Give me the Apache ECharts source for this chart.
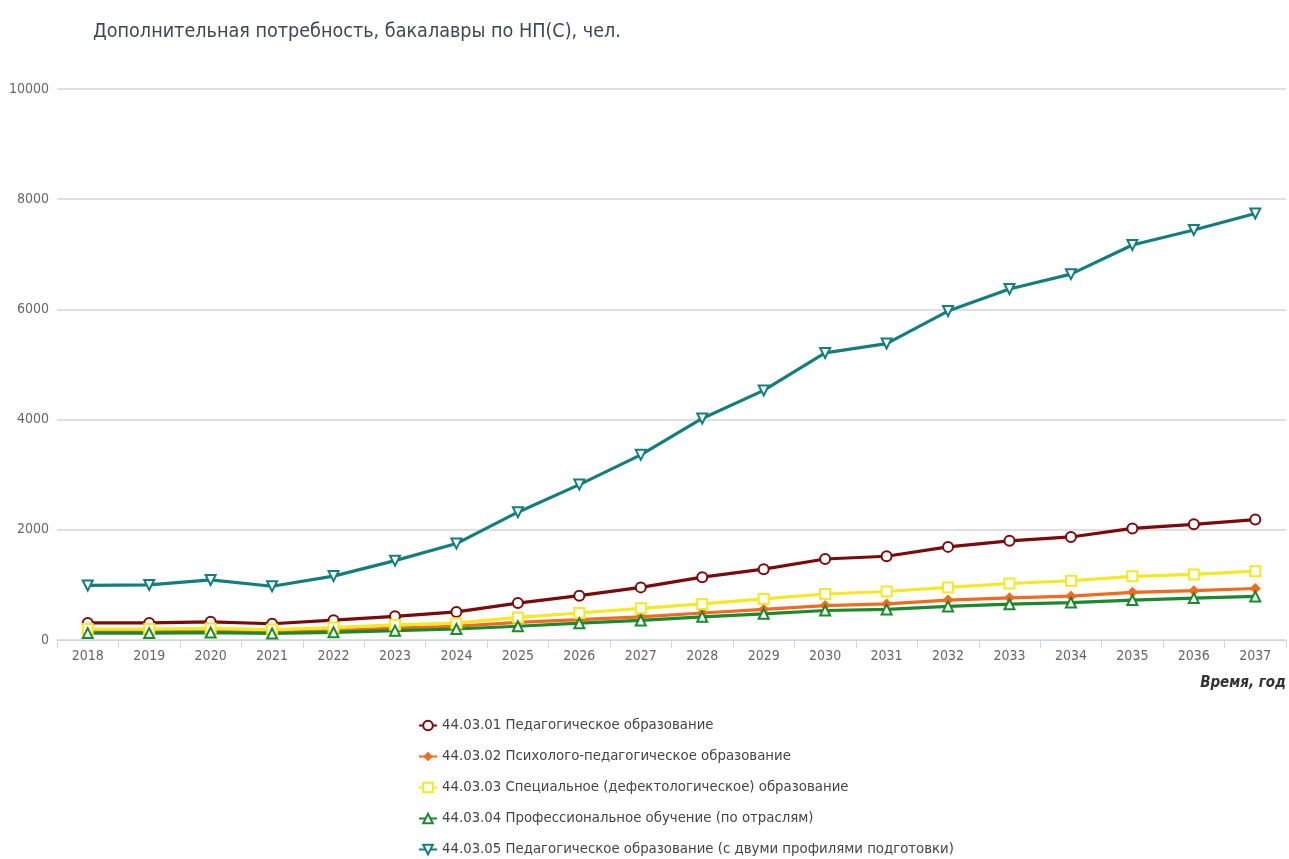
<!DOCTYPE html>
<html>
<head>
<meta charset="utf-8">
<script src="https://cdn.jsdelivr.net/npm/echarts@6/dist/echarts.min.js"></script>
<style>
html, body { margin: 0; padding: 0; background: #fff; }
#chart { width: 1289px; height: 859px; }
</style>
</head>
<body>
<div id="chart"></div>
<script>
const years = ['2018', '2019', '2020', '2021', '2022', '2023', '2024', '2025', '2026', '2027',
	'2028', '2029', '2030', '2031', '2032', '2033', '2034', '2035', '2036', '2037']

const ped01 = [310, 310, 330, 295, 360, 430, 510, 670, 805, 955, 1140, 1285, 1470, 1520, 1690, 1800, 1870, 2025, 2100, 2185]
const psy02 = [150, 150, 160, 140, 170, 215, 250, 320, 370, 420, 490, 555, 625, 655, 725, 765, 795, 865, 895, 935]
const spec03 = [200, 200, 210, 190, 225, 275, 305, 410, 490, 575, 655, 745, 835, 880, 955, 1025, 1075, 1155, 1190, 1250]
const prof04 = [125, 125, 135, 118, 140, 170, 200, 250, 305, 355, 420, 475, 535, 555, 610, 650, 680, 725, 760, 790]
const ped05 = [990, 1000, 1090, 975, 1160, 1440, 1750, 2320, 2820, 3360, 4020, 4530, 5210, 5380, 5970, 6370, 6640, 7170, 7440, 7740]

const names = [
	'44.03.01 Педагогическое образование',
	'44.03.02 Психолого-педагогическое образование',
	'44.03.03 Специальное (дефектологическое) образование',
	'44.03.04 Профессиональное обучение (по отраслям)',
	'44.03.05 Педагогическое образование (с двуми профилями подготовки)',
]

const font = '"DejaVu Sans Condensed", "DejaVu Sans", sans-serif'

function makeSeries(name, data, color, symbol, rotate, size) {
	return {
		name: name,
		type: 'line',
		data: data,
		color: color,
		symbol: symbol,
		symbolSize: size,
		symbolRotate: rotate,
		showAllSymbol: true,
		lineStyle: { width: 3.2, color: color },
		itemStyle: { color: color, borderWidth: 2.5 },
		emphasis: { disabled: true },
		animation: false,
	}
}

const chart = echarts.init(document.getElementById('chart'), null, { renderer: 'canvas' })

chart.setOption({
	backgroundColor: '#fff',
	textStyle: { fontFamily: font },
	title: {
		text: 'Дополнительная потребность, бакалавры по НП(С), чел.',
		left: 88,
		top: 17,
		textStyle: { fontFamily: font, fontSize: 19.6, fontWeight: 'normal', color: '#3c4753' },
	},
	grid: { left: 57, right: 2, top: 89, bottom: 219, containLabel: false },
	legend: {
		orient: 'vertical',
		left: 413,
		top: 713,
		height: 200,
		itemGap: 16,
		itemWidth: 18,
		itemHeight: 12,
		textStyle: { fontFamily: font, fontSize: 14.8, color: '#444' },
		data: names,
	},
	xAxis: {
		type: 'category',
		data: years,
		boundaryGap: true,
		axisLine: { lineStyle: { color: '#ccd6eb', width: 1 } },
		axisTick: { show: true, length: 8, lineStyle: { color: '#ccd6eb' } },
		axisLabel: { fontFamily: font, fontSize: 14, color: '#666', margin: 9 },
		name: 'Время, год',
		nameLocation: 'end',
		nameGap: 0,
		nameTextStyle: {
			fontFamily: font, fontSize: 15, fontWeight: 'bold', fontStyle: 'italic', color: '#333',
			align: 'right', verticalAlign: 'top', padding: [36, 0, 0, 0],
		},
	},
	yAxis: {
		type: 'value',
		min: 0,
		max: 10000,
		interval: 2000,
		axisLine: { show: false },
		axisTick: { show: false },
		axisLabel: { fontFamily: font, fontSize: 14, color: '#666', margin: 8, formatter: (v) => String(v) },
		splitLine: { lineStyle: { color: '#d6d6d6', width: 1.5 } },
	},
	series: [
		makeSeries(names[0], ped01, '#7d0a0a', 'emptyCircle', 0, 10),
		makeSeries(names[1], psy02, '#f26a1e', 'diamond', 0, 11),
		makeSeries(names[2], spec03, '#f4e923', 'emptyRect', 0, 10),
		makeSeries(names[3], prof04, '#1a8a2e', 'emptyTriangle', 0, 10),
		makeSeries(names[4], ped05, '#137e7e', 'emptyTriangle', 180, 10),
	],
})
</script>
</body>
</html>
